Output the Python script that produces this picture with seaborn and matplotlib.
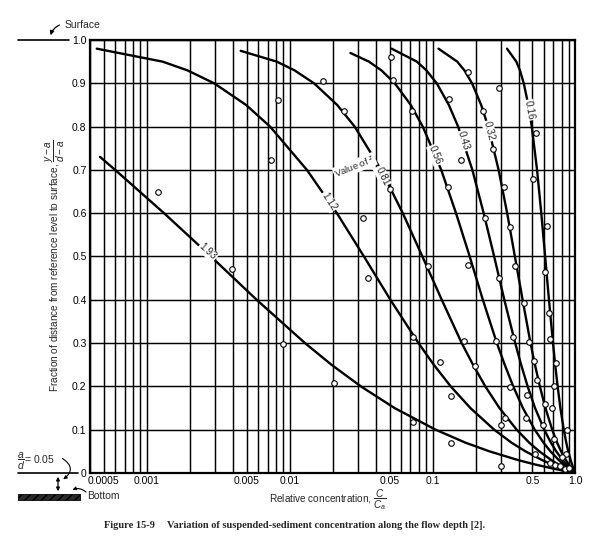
import numpy as np
import pandas as pd
import seaborn as sns
import matplotlib
matplotlib.use("Agg")
from matplotlib import pyplot as plt
from matplotlib.patches import FancyArrowPatch, Rectangle
from matplotlib.lines import Line2D
from matplotlib.ticker import FixedLocator, LogLocator, NullFormatter

# relative height above reference level, (y-a)/(d-a), shared by the curves
depth_levels = [0.0, 0.01, 0.02, 0.03, 0.05, 0.07, 0.10, 0.15, 0.20, 0.25, 0.30,
                0.40, 0.50, 0.60, 0.70, 0.80, 0.85, 0.90, 0.93, 0.95]

z_values = ["0.16", "0.32", "0.43", "0.56", "0.81", "1.12", "1.93"]

# relative concentration C/Ca
conc_z016 = [1.0, 0.971, 0.947, 0.926, 0.891, 0.863, 0.829, 0.785, 0.751, 0.722, 0.697,
             0.653, 0.614, 0.577, 0.539, 0.495, 0.468, 0.435, 0.409, 0.386, 0.332]
conc_z032 = [1.0, 0.943, 0.897, 0.857, 0.794, 0.745, 0.688, 0.617, 0.564, 0.521, 0.485,
             0.427, 0.377, 0.333, 0.290, 0.245, 0.219, 0.189, 0.167, 0.149, 0.110]
conc_z043 = [1.0, 0.924, 0.863, 0.813, 0.734, 0.674, 0.605, 0.522, 0.463, 0.417, 0.379,
             0.318, 0.270, 0.228, 0.190, 0.151, 0.130, 0.107, 0.0905, 0.0777, 0.0517]
conc_z056 = [1.0, 0.902, 0.825, 0.764, 0.669, 0.598, 0.519, 0.429, 0.367, 0.320, 0.282,
             0.225, 0.182, 0.146, 0.115, 0.0854, 0.0704, 0.0544, 0.0438, 0.0359, 0.0266]
conc_z081 = [1.0, 0.861, 0.758, 0.677, 0.559, 0.475, 0.388, 0.294, 0.234, 0.192, 0.160,
             0.116, 0.0849, 0.0619, 0.0437, 0.0285, 0.0215, 0.0148, 0.0108, 0.00812, 0.00454]
conc_z112 = [1.0, 0.814, 0.681, 0.583, 0.447, 0.357, 0.270, 0.184, 0.134, 0.102, 0.0797,
             0.0507, 0.0331, 0.0214, 0.0132, 0.00729, 0.00495, 0.00296, 0.00192, 0.00129, 0.000446]
conc_z193 = [1.0, 0.701, 0.516, 0.395, 0.250, 0.170, 0.105, 0.0542, 0.0315, 0.0196, 0.0128,
             0.00587, 0.00281, 0.00132, 0.0006, 0.00047]

# where each curve stops at the top
top_z016, top_z032, top_z043, top_z056 = 0.98, 0.98, 0.98, 0.97
top_z081, top_z112, top_z193 = 0.975, 0.98, 0.73

# measured points (open circles)
obs_conc = [0.00120, 0.00397, 0.0090, 0.0074, 0.00824, 0.0170, 0.0240, 0.0325, 0.0512, 0.0532,
            0.0722, 0.0504, 0.130, 0.178, 0.292, 0.225, 0.158, 0.267, 0.128, 0.233,
            0.318, 0.349, 0.528, 0.508, 0.631, 0.0355, 0.0204, 0.0734, 0.0734, 0.0925,
            0.176, 0.380, 0.616, 0.294, 0.440, 0.658, 0.668, 0.366, 0.472, 0.279,
            0.165, 0.112, 0.197, 0.516, 0.736, 0.539, 0.351, 0.713, 0.135, 0.459,
            0.611, 0.687, 0.324, 0.454, 0.302, 0.594, 0.875, 0.713, 0.135, 0.525,
            0.865, 0.807, 0.662, 0.302, 0.724, 0.785, 0.843, 0.90]
obs_depth = [0.648, 0.470, 0.298, 0.724, 0.861, 0.905, 0.836, 0.588, 0.960, 0.908,
             0.836, 0.657, 0.863, 0.925, 0.890, 0.836, 0.723, 0.748, 0.660, 0.588,
             0.661, 0.569, 0.785, 0.678, 0.571, 0.450, 0.208, 0.314, 0.118, 0.479,
             0.480, 0.477, 0.464, 0.450, 0.393, 0.370, 0.309, 0.313, 0.302, 0.304,
             0.304, 0.256, 0.248, 0.258, 0.254, 0.215, 0.198, 0.202, 0.177, 0.179,
             0.159, 0.150, 0.127, 0.127, 0.110, 0.110, 0.100, 0.079, 0.069, 0.044,
             0.044, 0.037, 0.023, 0.017, 0.018, 0.015, 0.009, 0.012]

# inline curve labels
label_conc = [0.472, 0.25, 0.165, 0.1046, 0.0445, 0.0188, 0.00267]
label_depth = [0.838, 0.79, 0.767, 0.734, 0.686, 0.627, 0.511]
label_angle = [-80, -76, -73, -68, -64, -57, -42]

xtick_values = [0.0005, 0.001, 0.005, 0.01, 0.05, 0.1, 0.5, 1.0]
xtick_labels = ["0.0005", "0.001", "0.005", "0.01", "0.05", "0.1", "0.5", "1.0"]
ytick_values = [0.0, 0.1, 0.2, 0.3, 0.4, 0.5, 0.6, 0.7, 0.8, 0.9, 1.0]
ytick_labels = ["0", "0.1", "0.2", "0.3", "0.4", "0.5", "0.6", "0.7", "0.8", "0.9", "1.0"]


def fx(px):
    return px / 600


def fy(py):
    return 1 - py / 548


def main():
    sns.set_theme(style="white")
    plt.rcParams["font.family"] = ["Liberation Sans", "DejaVu Sans"]
    plt.rcParams["mathtext.fontset"] = "custom"
    plt.rcParams["mathtext.it"] = "Liberation Sans:italic"
    plt.rcParams["mathtext.rm"] = "Liberation Sans"

    curve_conc = [conc_z016, conc_z032, conc_z043, conc_z056, conc_z081, conc_z112, conc_z193]
    curve_depth = [depth_levels + [top_z016], depth_levels + [top_z032],
                   depth_levels + [top_z043], depth_levels + [top_z056],
                   depth_levels + [top_z081], depth_levels + [top_z112],
                   depth_levels[:15] + [top_z193]]
    curves = pd.concat(
        [pd.DataFrame({"z": z, "conc": c, "depth": d})
         for z, c, d in zip(z_values, curve_conc, curve_depth)],
        ignore_index=True,
    )
    obs = pd.DataFrame({"conc": obs_conc, "depth": obs_depth})

    fig = plt.figure(figsize=(6.0, 5.48), dpi=100)
    ax = fig.add_axes([0.15, 0.1369, 0.809, 0.7901])
    ax.set_xscale("log")

    sns.lineplot(data=curves, x="conc", y="depth", units="z", estimator=None,
                 sort=False, color="black", linewidth=1.7, legend=False, ax=ax, zorder=3)
    sns.scatterplot(data=obs, x="conc", y="depth", marker="o", s=16, facecolor="white",
                    edgecolor="black", linewidth=0.8, legend=False, ax=ax, zorder=4)

    ax.set_xlim(0.0004, 1.0)
    ax.set_ylim(0, 1.0)
    ax.xaxis.set_major_locator(FixedLocator(xtick_values))
    ax.set_xticklabels(xtick_labels)
    ax.xaxis.set_minor_locator(LogLocator(base=10, subs=np.arange(2, 10), numticks=20))
    ax.xaxis.set_minor_formatter(NullFormatter())
    ax.set_yticks(ytick_values)
    ax.set_yticklabels(ytick_labels)
    ax.set_xlabel("")
    ax.set_ylabel("")
    ax.tick_params(which="both", length=0, pad=2.5, labelsize=7.5, colors="black")
    ax.set_axisbelow(True)
    ax.grid(True, which="both", axis="x", color="black", linewidth=1.05)
    ax.grid(True, which="major", axis="y", color="black", linewidth=1.05)
    for side in ax.spines.values():
        side.set_color("black")
        side.set_linewidth(1.6)

    # curve labels break the lines
    box = dict(facecolor="white", edgecolor="none", pad=0.6)
    for z, x, y, a in zip(z_values, label_conc, label_depth, label_angle):
        ax.text(x, y, z, rotation=a, rotation_mode="anchor", ha="center", va="center",
                fontsize=7.2, bbox=box, zorder=5)
    ax.text(0.0285, 0.708, "Value of $^z$", rotation=22, rotation_mode="anchor",
            ha="center", va="center", fontsize=6.8, bbox=box, zorder=5)

    # axis titles
    fig.text(fx(328), fy(500), r"Relative concentration, $\dfrac{C}{C_a}$",
             ha="center", va="center", fontsize=7.2)
    fig.text(fx(55), fy(266),
             r"Fraction of distance from reference level to surface, $\dfrac{y-a}{d-a}$",
             rotation=90, ha="center", va="center", fontsize=7.2)

    # surface sketch
    fig.add_artist(Line2D([fx(18), fx(69)], [fy(39.5), fy(39.5)], color="black",
                          linewidth=1.2, transform=fig.transFigure))
    fig.text(fx(65), fy(25), "Surface", fontsize=7.5, ha="left", va="center")
    fig.add_artist(FancyArrowPatch((fx(62), fy(24)), (fx(50), fy(38)),
                                   transform=fig.transFigure, arrowstyle="-|>",
                                   connectionstyle="arc3,rad=0.3", mutation_scale=6,
                                   linewidth=0.9, color="black"))

    # bottom sketch
    fig.add_artist(Line2D([fx(18), fx(78)], [fy(473), fy(473)], color="black",
                          linewidth=1.2, transform=fig.transFigure))
    fig.text(fx(17), fy(461), r"$\dfrac{a}{d}$= 0.05", fontsize=7.5, ha="left", va="center")
    fig.add_artist(FancyArrowPatch((fx(60), fy(457)), (fx(61), fy(481)),
                                   transform=fig.transFigure, arrowstyle="-|>",
                                   connectionstyle="arc3,rad=-0.8", mutation_scale=5,
                                   linewidth=0.8, color="black"))
    fig.add_artist(FancyArrowPatch((fx(58), fy(474)), (fx(58), fy(494)),
                                   transform=fig.transFigure, arrowstyle="<|-|>",
                                   mutation_scale=5, linewidth=0.9, color="black"))
    fig.add_artist(Rectangle((fx(18), fy(500)), fx(80) - fx(18), 6 / 548,
                             transform=fig.transFigure, facecolor="#2a2a2a",
                             edgecolor="black", hatch="////", linewidth=0.6))
    fig.text(fx(87), fy(496), "Bottom", fontsize=7.5, ha="left", va="center")
    fig.add_artist(FancyArrowPatch((fx(88), fy(494)), (fx(70), fy(491)),
                                   transform=fig.transFigure, arrowstyle="-|>",
                                   connectionstyle="arc3,rad=0.4", mutation_scale=5,
                                   linewidth=0.8, color="black"))

    # caption
    fig.text(fx(104), fy(525), "Figure 15-9", family="Liberation Serif",
             weight="bold", fontsize=7.5, ha="left", va="center")
    fig.text(fx(167), fy(525),
             "Variation of suspended-sediment concentration along the flow depth [2].",
             family="Liberation Serif", weight="bold", fontsize=7.5, ha="left", va="center")

    fig.savefig("out.png", dpi=100, facecolor="white")


if __name__ == "__main__":
    main()
